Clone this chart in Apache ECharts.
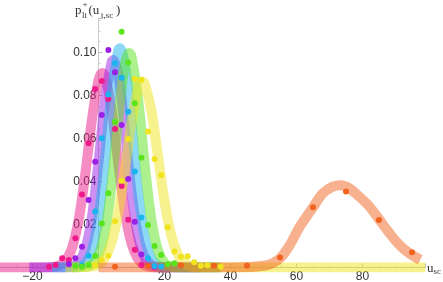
<!DOCTYPE html>
<html><head><meta charset="utf-8">
<script src="https://cdn.jsdelivr.net/npm/echarts@6/dist/echarts.min.js"></script>
<style>html,body{margin:0;padding:0;background:#fff}#c{width:443px;height:282px}</style>
</head><body><div id="c"></div>
<script>
// ---- fitted curves ----
const uPinkCurve = [-30,-16,-14,-12,-10,-8,-6,-4,-2,0,1.2,2,4,6,8,10,12,14,16,18,22];
const pPinkCurve = [0,0,0.0002,0.0008,0.0031,0.0092,0.0223,0.0436,0.0686,0.0871,0.0905,0.0889,0.0732,0.0485,0.0259,0.0112,0.0039,0.0011,0.0002,0,0];
const uPurpleCurve = [-21,-12,-10,-8,-6,-4,-2,0,2,4,4.5,6,8,10,12,14,16,18,20,31];
const pPurpleCurve = [0,0,0.0001,0.0005,0.0024,0.0086,0.0234,0.0489,0.0782,0.0957,0.0965,0.0895,0.064,0.035,0.0146,0.0047,0.0011,0.0002,0,0];
const uBlueCurve = [-14,-8,-6,-4,-2,0,2,4,6,6.5,8,10,12,14,16,18,20,22,37];
const pBlueCurve = [0,0.0001,0.0004,0.0021,0.008,0.023,0.05,0.0818,0.1011,0.102,0.0943,0.0663,0.0352,0.0141,0.0042,0.001,0.0002,0,0];
const uGreenCurve = [-8,-4,-2,0,2,4,6,8,9.3,10,12,14,16,18,20,22,24,26,37];
const pGreenCurve = [0,0.0003,0.0014,0.0056,0.017,0.0392,0.0695,0.0943,0.0998,0.0982,0.0783,0.0479,0.0225,0.0081,0.0022,0.0005,0.0001,0,0];
const uYellowCurve = [-10,-2,0,2,4,6,8,10,12,13.3,14,16,18,20,22,24,26,28,30,32,99];
const pYellowCurve = [0,0.0004,0.0015,0.0046,0.0119,0.0255,0.0454,0.0674,0.0832,0.0865,0.0855,0.0732,0.0521,0.0309,0.0152,0.0062,0.0021,0.0006,0.0001,0,0];
const uOrangeCurve = [0,40,46,50,52,55,58,61,65,68,71,73.5,76,79,82,85,88,91,94,97.5];
const pOrangeCurve = [0,0,0.0002,0.0008,0.0015,0.0043,0.0105,0.019,0.028,0.0345,0.0376,0.0382,0.0368,0.033,0.0285,0.0225,0.0163,0.0108,0.0068,0.0036];

// ---- data points ----
const uPinkDots = [-15,-13,-11,-9,-7,-5,-3,-1,1,3,5,7,9,11,13];
const pPinkDots = [0.0004,0.0012,0.0043,0.0035,0.0136,0.034,0.0578,0.083,0.0867,0.0784,0.0644,0.0379,0.0222,0.0083,0.0012];
const uPurpleDots = [-9,-7,-5,-3,-1,1,3,5,7,9,11,13,15,17];
const pPurpleDots = [0.0015,0.0043,0.0097,0.0314,0.0492,0.0709,0.1012,0.0908,0.0663,0.0412,0.0213,0.006,0.0008,0.0004];
const uBlueDots = [-5,-3,-1,1,3,5,7,9,11,13,15,17,19];
const pBlueDots = [0.0012,0.0055,0.026,0.0601,0.0805,0.095,0.0883,0.0725,0.0446,0.0232,0.0043,0.0007,0.0005];
const uGreenDots = [-7,-5,-3,-1,1,3,5,7,9,11,13,15,17,19,21,23];
const pGreenDots = [0.0007,0.0004,0.0012,0.0053,0.0205,0.0345,0.0678,0.1097,0.0954,0.0764,0.0511,0.0198,0.01,0.0058,0.0015,0.002];
const uYellowDots = [-1,1,3,5,7,9,11,13,15,17,19,21,23,25,27,29,31,33,37];
const pYellowDots = [0.001,0.0035,0.0055,0.0215,0.0404,0.0598,0.0877,0.0872,0.0632,0.0505,0.043,0.0187,0.0074,0.005,0.0052,0.0024,0.0008,0.0011,0.0004];
const uOrangeDots = [5,15,25,35,45,55,65,75,85,95];
const pOrangeDots = [0.0003,0.0007,0.001,0.0008,0.0008,0.0046,0.028,0.0354,0.0221,0.0071];

const xTickLabels = [-20,20,40,60,80];
const yTickLabels = [0.02,0.04,0.06,0.08,0.10];

const colors = {pink:'#EE1A8A', purple:'#9B20E6', blue:'#1AB4EE', green:'#5AE41E', yellow:'#F0E41E', orange:'#F2641E'};

const zip = (a,b) => a.map((v,i)=>[v,b[i]]);
const curves = [
  ['pink', uPinkCurve, pPinkCurve],
  ['purple', uPurpleCurve, pPurpleCurve],
  ['blue', uBlueCurve, pBlueCurve],
  ['green', uGreenCurve, pGreenCurve],
  ['yellow', uYellowCurve, pYellowCurve],
  ['orange', uOrangeCurve, pOrangeCurve]
];
const dots = [
  ['pink', uPinkDots, pPinkDots],
  ['purple', uPurpleDots, pPurpleDots],
  ['blue', uBlueDots, pBlueDots],
  ['green', uGreenDots, pGreenDots],
  ['yellow', uYellowDots, pYellowDots],
  ['orange', uOrangeDots, pOrangeDots]
];
const series = [];
curves.forEach(([c,u,p]) => series.push({
  type:'line', data: zip(u,p), smooth:0.35, showSymbol:false, silent:true,
  lineStyle:{color:colors[c], width:10, opacity:0.5, cap:'butt'}, z:1
}));
dots.forEach(([c,u,p]) => series.push({
  type:'scatter', data: zip(u,p), symbolSize:6, silent:true,
  itemStyle:{color:colors[c], opacity:1}, z:5
}));

const chart = echarts.init(document.getElementById('c'), null, {renderer:'canvas'});
const serif = '"Liberation Serif","DejaVu Serif",serif';
const sans = '"Liberation Sans",Arial,sans-serif';
const labelColor = '#333';
const gridLeft = -33.5;
const xMin = -40;
const pxPerUnit = 3.3;
chart.setOption({
  animation:false,
  grid:{left:gridLeft, right:17.8, top:18.1, bottom:14.5, containLabel:false, outerBoundsMode:'none'},
  xAxis:{type:'value', min:xMin, max:99, interval:20,
    axisLine:{onZero:true, lineStyle:{color:'#bbb', width:1}},
    axisTick:{inside:true, length:4, lineStyle:{color:'#bbb'}},
    minorTick:{show:true, splitNumber:4, length:2, lineStyle:{color:'#ccc'}},
    splitLine:{show:false},
    axisLabel:{margin:3, fontSize:12, fontFamily:sans, color:labelColor,
      formatter:v => xTickLabels.includes(v) ? String(v).replace('-','\u2212') : ''}
  },
  yAxis:{type:'value', min:0, max:0.116, interval:0.02,
    position:'left', offset: -(0 - xMin) * pxPerUnit,
    axisLine:{show:true, onZero:false, lineStyle:{color:'#ccc', width:1}},
    axisTick:{show:true, inside:true, length:4, lineStyle:{color:'#bbb'}},
    minorTick:{show:true, splitNumber:4, length:2, lineStyle:{color:'#ccc'}},
    splitLine:{show:false},
    axisLabel:{margin:2, fontSize:12, fontFamily:sans, color:labelColor,
      formatter:v => yTickLabels.some(t=>Math.abs(t-v)<1e-9) ? v.toFixed(2) : ''}
  },
  graphic:[
    {type:'text', style:{text:'p', x:75, y:11, font:'13px '+serif, fill:labelColor, verticalAlign:'middle'}},
    {type:'text', style:{text:'+', x:82.5, y:5, font:'9px '+serif, fill:labelColor, verticalAlign:'middle'}},
    {type:'text', style:{text:'lt', x:82, y:15.5, font:'9px '+serif, fill:labelColor, verticalAlign:'middle'}},
    {type:'text', style:{text:'(u', x:88.5, y:11, font:'13px '+serif, fill:labelColor, verticalAlign:'middle'}},
    {type:'text', style:{text:'t,sc', x:101, y:15.5, font:'9px '+serif, fill:labelColor, verticalAlign:'middle'}},
    {type:'text', style:{text:')', x:116, y:11, font:'13px '+serif, fill:labelColor, verticalAlign:'middle'}},
    {type:'text', style:{text:'u', x:427, y:268.5, font:'13px '+serif, fill:labelColor, verticalAlign:'middle'}},
    {type:'text', style:{text:'sc', x:433.5, y:272, font:'9px '+serif, fill:labelColor, verticalAlign:'middle'}}
  ],
  series
});
</script></body></html>
